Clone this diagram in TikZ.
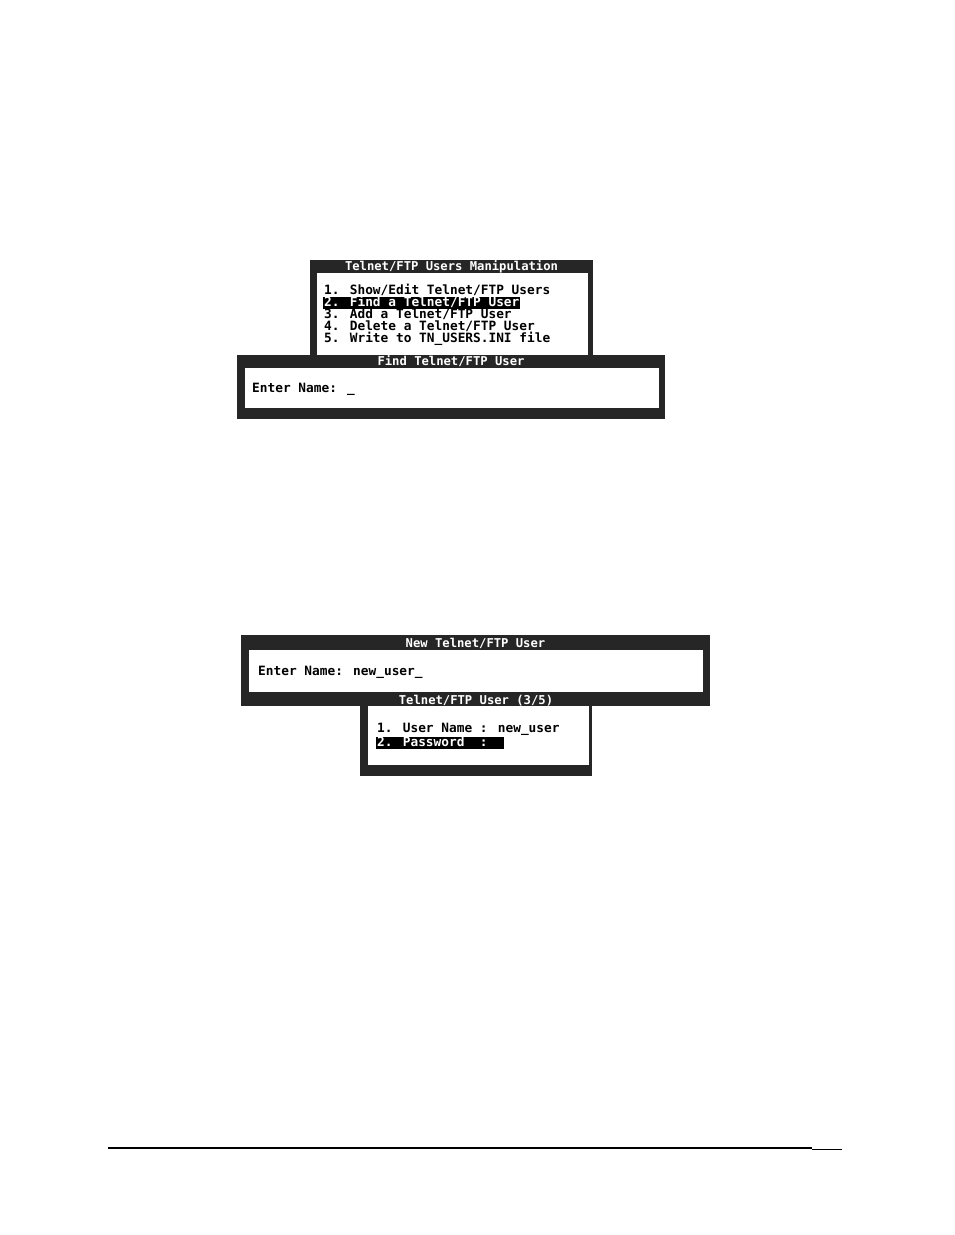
\documentclass[tikz,border=0pt]{standalone}
\usepackage{fontspec}
\newfontfamily\termfont{DejaVu Sans Mono}

\begin{document}
\begin{tikzpicture}[x=1pt, y=-1pt,
      frame/.style = {fill=black!85},
      pane/.style = {fill=white},
      term/.style = {font=\termfont\bfseries\fontsize{12.8}{14}\selectfont, inner sep=0pt},
      title/.style = {term, font=\termfont\bfseries\fontsize{12.2}{14}\selectfont, text=white, anchor=base},
      line/.style = {term, anchor=base west},
      hilite/.style = {line, fill=black, text=white, text height=9.5pt, text depth=2.5pt, inner xsep=1pt}]
    \useasboundingbox (0,0) rectangle (954,1235);

    % users manipulation menu
    \fill[frame] (310,260) rectangle (593,358);
    \fill[pane] (317,273) rectangle (588,355);
    \node[title] (menutitle) at (451.5,270.5) {Telnet/FTP Users Manipulation};
    \node[line] (m1) at (324,294.5) {1. Show/Edit Telnet/FTP Users};
    \node[hilite] (m2) at (323,306.5) {2. Find a Telnet/FTP User};
    \node[line] (m3) at (324,318.5) {3. Add a Telnet/FTP User};
    \node[line] (m4) at (324,330.5) {4. Delete a Telnet/FTP User};
    \node[line] (m5) at (324,342.5) {5. Write to TN\_USERS.INI file};

    % find user dialog
    \fill[frame] (237,355) rectangle (665,419);
    \fill[pane] (245,368) rectangle (659,408);
    \node[title] (findtitle) at (451,365.5) {Find Telnet/FTP User};
    \node[line] (findname) at (252,392) {Enter Name: \_};

    % new user dialog
    \fill[frame] (241,635) rectangle (710,706);
    \fill[pane] (249,650) rectangle (703,692);
    \node[title] (newtitle) at (475.5,647) {New Telnet/FTP User};
    \node[line] (newname) at (258,675) {Enter Name: new\_user\_};

    % user record
    \fill[frame] (360,692) rectangle (592,776);
    \fill[pane] (368,706) rectangle (589,765);
    \node[title] (usertitle) at (476,704) {Telnet/FTP User (3/5)};
    \node[line] (u1) at (377,732) {1. User Name : new\_user};
    \node[hilite] (u2) at (376,746) {2. Password~~:~~~};

    % footer rule
    \draw[line width=1.2pt] (108,1148) -- (812,1148);
    \draw[line width=1.6pt] (812,1149.5) -- (842,1149.5);
  \end{tikzpicture}
\end{document}
